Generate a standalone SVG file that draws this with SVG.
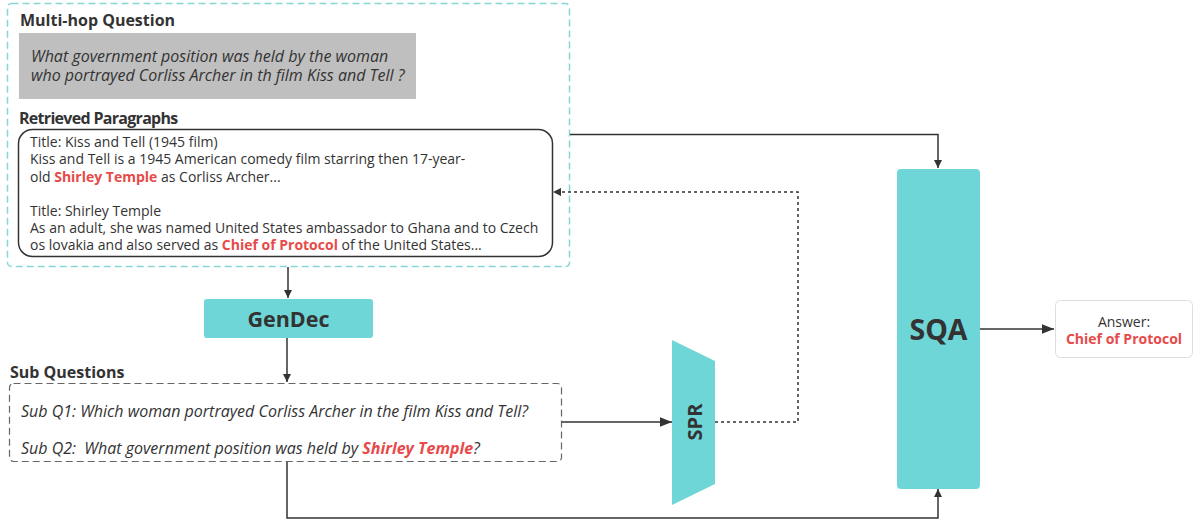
<svg xmlns="http://www.w3.org/2000/svg" width="1196" height="519" viewBox="0 0 1196 519">
<defs>
<style>
text{font-family:"Open Sans","Noto Sans","Liberation Sans",sans-serif;fill:#333;}
.h{font-weight:bold;font-size:16px;}
.p{font-size:14px;}
.it{font-style:italic;font-size:16px;}
.r{fill:#e84a4a;font-weight:bold;}
.teal{fill:#6fd6d8;}
.big{font-weight:bold;text-anchor:middle;}
.ln{fill:none;stroke:#333;stroke-width:1.5;}
</style>
<marker id="ar" viewBox="0 0 10 10" refX="10" refY="5" markerWidth="8" markerHeight="8" orient="auto" markerUnits="userSpaceOnUse">
<path d="M0,0 L10,5 L0,10 z" fill="#333"/>
</marker>
<marker id="arb" viewBox="0 0 10 10" refX="10" refY="5" markerWidth="12" markerHeight="12" orient="auto" markerUnits="userSpaceOnUse">
<path d="M0,1 L10,5 L0,9 z" fill="#333"/>
</marker>
</defs>
<rect width="1196" height="519" fill="#fff"/>

<g id="outer">
<rect x="7.5" y="3.5" width="562" height="263" rx="4" fill="none" stroke="#86d6d8" stroke-width="1.5" stroke-dasharray="7,4"/>
<text class="h" x="20" y="26">Multi-hop Question</text>
<rect x="19" y="33" width="397" height="66" fill="#bfbfbf"/>
<text class="it" x="31" y="62">What government position was held by the woman</text>
<text class="it" x="31" y="81">who portrayed Corliss Archer in th film Kiss and Tell ?</text>
<text class="h" x="19" y="124" style="letter-spacing:-0.7px">Retrieved Paragraphs</text>
</g>

<g id="paragraphs">
<rect x="18.5" y="129.5" width="534" height="127" rx="14" fill="#fff" stroke="#333" stroke-width="1.5"/>
<text class="p" x="30" y="147">Title: Kiss and Tell (1945 film)</text>
<text class="p" x="30" y="164">Kiss and Tell is a 1945 American comedy film starring then 17-year-</text>
<text class="p" x="30" y="182">old <tspan class="r">Shirley Temple</tspan> as Corliss Archer...</text>
<text class="p" x="30" y="216">Title: Shirley Temple</text>
<text class="p" x="30" y="233">As an adult, she was named United States ambassador to Ghana and to Czech</text>
<text class="p" x="30" y="250">os lovakia and also served as <tspan class="r">Chief of Protocol</tspan> of the United States...</text>
</g>

<g id="gendec">
<rect class="teal" x="204" y="299" width="169" height="39" rx="3"/>
<text class="big" x="288.5" y="327" font-size="21.5">GenDec</text>
</g>

<g id="subq">
<text class="h" x="10" y="378">Sub Questions</text>
<rect x="9.5" y="383.5" width="552" height="78" rx="4" fill="none" stroke="#666" stroke-width="1.2" stroke-dasharray="7,4"/>
<text class="it" x="21" y="417">Sub Q1: Which woman portrayed Corliss Archer in the film Kiss and Tell?</text>
<text class="it" x="21" y="454">Sub Q2:&#160; What government position was held by <tspan class="r">Shirley Temple</tspan>?</text>
</g>

<g id="spr">
<polygon class="teal" points="672,340 715,361 715,484 672,505"/>
<text class="big" transform="translate(702,422) rotate(-90)" font-size="20">SPR</text>
</g>

<g id="sqa">
<rect class="teal" x="897" y="169" width="83" height="320" rx="4"/>
<text class="big" x="938.5" y="340" font-size="28.5">SQA</text>
</g>

<g id="answer">
<rect x="1055.5" y="300.5" width="137" height="57" rx="5" fill="#fff" stroke="#ddd" stroke-width="1"/>
<text x="1124" y="327" font-size="14" text-anchor="middle">Answer:</text>
<text class="r" x="1124" y="344" font-size="14" text-anchor="middle">Chief of Protocol</text>
</g>

<g id="connectors">
<path class="ln" d="M288,267 V298" marker-end="url(#ar)"/>
<path class="ln" d="M287,338 V382" marker-end="url(#ar)"/>
<path class="ln" d="M562,422 H672" marker-end="url(#arb)"/>
<path class="ln" d="M715,422 H798 V192 H553" stroke-dasharray="3,3" marker-end="url(#ar)"/>
<path class="ln" d="M570,134.5 H938 V168" marker-end="url(#ar)"/>
<path class="ln" d="M287,462 V518 H938 V489" marker-end="url(#ar)"/>
<path class="ln" d="M980,329 H1054" marker-end="url(#arb)"/>
</g>
</svg>
